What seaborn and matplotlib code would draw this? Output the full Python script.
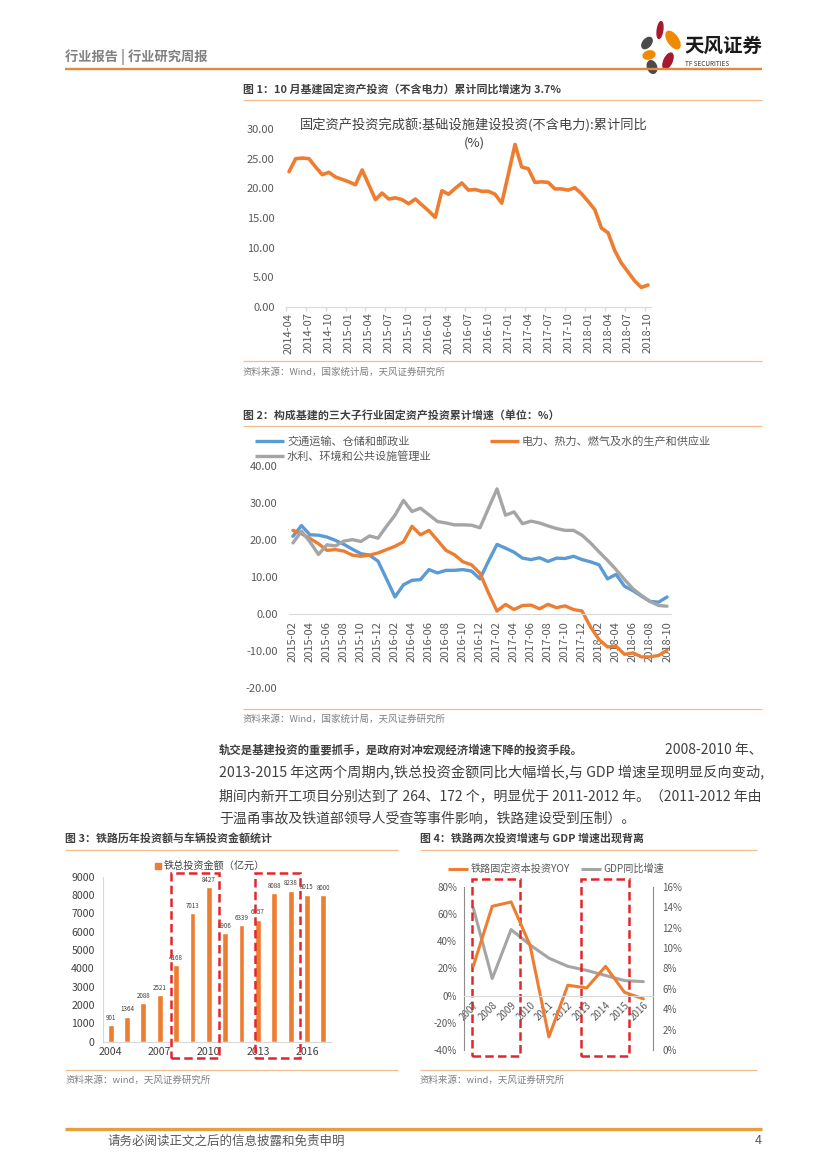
import numpy as np
import pandas as pd
import matplotlib
matplotlib.use("Agg")
import matplotlib.pyplot as plt
import seaborn as sns
from matplotlib.lines import Line2D
from matplotlib.patches import Ellipse, Rectangle

# ---------------- data ----------------
c1_months = [str(p) for p in pd.period_range("2014-04", "2018-10", freq="M")]
c1_infra = [22.8, 25.0, 25.1, 25.0, 23.6, 22.3, 22.7, 21.9, 21.5,
            21.1, 20.6, 23.1, 20.6, 18.1, 19.2, 18.2, 18.4, 18.1, 17.4, 18.2, 17.2,
            16.2, 15.1, 19.6, 19.0, 20.0, 20.9, 19.7, 19.8, 19.5, 19.5, 19.0, 17.5,
            22.4, 27.4, 23.6, 23.3, 21.0, 21.1, 21.0, 19.9, 19.9, 19.7, 20.1, 19.1,
            17.8, 16.4, 13.3, 12.5, 9.5, 7.4, 5.9, 4.4, 3.3, 3.7]

c2_months = [str(p) for p in pd.period_range("2015-02", "2018-10", freq="M")]
c2_transport = [21.0, 23.9, 21.4, 21.3, 20.8, 19.9, 18.8, 17.5, 16.3, 15.9, 14.3,
                9.5, 4.6, 7.9, 9.1, 9.3, 12.0, 11.1, 11.8, 11.8, 12.0, 11.6, 9.5,
                14.3, 18.8, 17.8, 16.7, 15.1, 14.7, 15.2, 14.2, 15.1, 15.0, 15.6, 14.7,
                14.1, 13.3, 9.5, 10.7, 7.5, 6.3, 4.8, 3.4, 3.2, 4.6]
c2_power = [22.6, 21.7, 20.4, 19.0, 17.2, 17.4, 17.0, 15.9, 15.6, 15.9, 16.5,
            17.4, 18.3, 19.5, 23.7, 21.4, 22.6, 19.9, 17.2, 16.0, 14.1, 13.3, 11.0,
            5.7, 0.8, 2.6, 1.2, 2.3, 2.4, 1.4, 2.6, 1.7, 2.2, 1.2, 0.8,
            -3.5, -6.9, -8.9, -8.7, -10.9, -10.5, -11.6, -11.6, -11.2, -9.8]
c2_water = [19.2, 22.4, 19.5, 16.1, 18.7, 18.4, 19.7, 20.1, 19.6, 21.1, 20.5,
            23.7, 26.7, 30.7, 27.7, 28.6, 26.8, 25.0, 24.6, 24.1, 24.1, 24.0, 23.3,
            28.6, 33.8, 26.7, 27.6, 24.4, 25.1, 24.6, 23.8, 23.1, 22.6, 22.6, 21.3,
            19.2, 16.8, 14.5, 12.0, 9.3, 6.8, 5.0, 3.4, 2.3, 2.1]
c2_names = ["交通运输、仓储和邮政业", "电力、热力、燃气及水的生产和供应业", "水利、环境和公共设施管理业"]

c3_years = ["2004", "2005", "2006", "2007", "2008", "2009", "2010",
            "2011", "2012", "2013", "2014", "2015", "2016", "2017"]
c3_invest = [901, 1364, 2088, 2521, 4168, 7013, 8427, 5906, 6339, 6657, 8088, 8238, 8015, 8000]
c3_tick_years = ["2004", "2007", "2010", "2013", "2016"]

c4_years = ["2007", "2008", "2009", "2010", "2011", "2012", "2013", "2014", "2015", "2016"]
c4_rail_yoy = [21.7, 65.6, 68.8, 37.0, -30.4, 7.6, 5.6, 21.5, 2.4, -2.4]
c4_gdp = [13.9, 7.0, 11.8, 10.3, 9.0, 8.2, 7.8, 7.3, 6.8, 6.7]

# ---------------- style ----------------
sns.set_theme(style="white")
plt.rcParams['font.family'] = ['Noto Sans CJK SC', 'DejaVu Sans']
plt.rcParams['axes.unicode_minus'] = False

ORANGE = '#ED7D31'
BLUE = '#5B9BD5'
GRAY = '#A5A5A5'
RED = '#E3262B'
LINE_OR = '#F3BE8E'
TXT = '#404040'
TICK = '#595959'
SRC = '#7F7F7F'

W, H = 827, 1169
fig = plt.figure(figsize=(W / 100, H / 100), dpi=100)
fig.patch.set_facecolor('white')
renderer = fig.canvas.get_renderer()


def fx(x):
    return x / W


def fy(y):
    return 1 - y / H


def box(x0, y0, x1, y1):
    a = fig.add_axes([fx(x0), fy(y1), (x1 - x0) / W, (y1 - y0) / H])
    a.set_facecolor('none')
    return a


def ftext(x, y, s, **kw):
    kw.setdefault('va', 'center')
    return fig.text(fx(x), fy(y), s, **kw)


def fit_text(x0, x1, y, s, base, **kw):
    t = ftext(x0, y, s, fontsize=base, **kw)
    w = t.get_window_extent(renderer).width
    t.set_fontsize(base * (x1 - x0) / w)
    return t


def hline(x0, x1, y, color, lw):
    fig.add_artist(Line2D([fx(x0), fx(x1)], [fy(y), fy(y)], color=color, lw=lw,
                          solid_capstyle='butt'))


def dashed_box(x0, y0, x1, y1):
    fig.add_artist(Rectangle((fx(x0), fy(y1)), (x1 - x0) / W, (y1 - y0) / H, fill=False,
                             edgecolor=RED, lw=1.8, linestyle=(0, (3.4, 1.7))))


def clean(ax):
    ax.set_xlabel('')
    ax.set_ylabel('')
    for s in ['top', 'right', 'left']:
        ax.spines[s].set_visible(False)
    ax.spines['bottom'].set_color('#D9D9D9')
    ax.spines['bottom'].set_linewidth(0.8)


# ---------------- header ----------------
ftext(65, 57, "行业报告 | 行业研究周报", fontsize=9.5, color='#808080', weight='bold')
hline(65, 762, 69, '#E8873A', 1.7)

logo = box(634, 18, 686, 76)
logo.set_xlim(634, 686)
logo.set_ylim(76, 18)
logo.axis('off')
petals = [((660, 30), 5.5, 17, 8, '#A8192E'),
          ((673, 40), 10, 20, -35, '#F08A00'),
          ((647, 43), 8, 13, 40, '#4A4A4A'),
          ((649, 55), 12, 8, -15, '#F08A00'),
          ((668, 61), 8, 17, 25, '#A8192E'),
          ((652, 67), 9, 13, -20, '#4A4A4A')]
for (c, w, h, ang, col) in petals:
    logo.add_patch(Ellipse(c, w, h, angle=ang, color=col))
ftext(684, 46, "天风证券", fontsize=14, weight='bold', color='#1A1A1A')
ftext(685, 64, "TF SECURITIES", fontsize=4.6, color='#333333')

# ---------------- chart 1 ----------------
ftext(243, 89, "图 1：10 月基建固定资产投资（不含电力）累计同比增速为 3.7%",
      fontsize=7.9, weight='bold', color=TXT)
hline(243, 762, 100, LINE_OR, 0.9)

n1 = len(c1_infra)
ax1 = box(285.7, 129, 651.3, 307)
sns.lineplot(x=np.arange(n1), y=c1_infra, ax=ax1, color=ORANGE, lw=2.6)
clean(ax1)
ax1.set_xlim(-0.5, n1 - 0.5)
ax1.set_ylim(0, 30)
yt = np.arange(0, 31, 5)
ax1.set_yticks(yt)
ax1.set_yticklabels([f"{v:.2f}" for v in yt])
ax1.set_xticks(np.arange(0, n1, 3))
ax1.set_xticklabels(c1_months[::3], rotation=90)
ax1.set_xticks(np.arange(-0.5, n1, 3), minor=True)
ax1.tick_params(axis='both', which='major', length=0, labelsize=8, labelcolor=TICK)
ax1.tick_params(axis='y', pad=8)
ax1.tick_params(axis='x', pad=4)
ax1.tick_params(axis='x', which='minor', length=3, color='#D9D9D9', bottom=True)
ftext(474, 125, "固定资产投资完成额:基础设施建设投资(不含电力):累计同比",
      fontsize=9.5, color=TXT, ha='center')
ftext(474, 143, "(%)", fontsize=9.5, color=TXT, ha='center')

hline(243, 762, 361, LINE_OR, 0.9)
ftext(243, 372, "资料来源：Wind，国家统计局，天风证券研究所", fontsize=6.8, color=SRC)

# ---------------- chart 2 ----------------
ftext(243, 415, "图 2：构成基建的三大子行业固定资产投资累计增速（单位：%）",
      fontsize=7.9, weight='bold', color=TXT)
hline(243, 762, 426, LINE_OR, 0.9)

n2 = len(c2_transport)
ax2 = box(288.7, 466, 671.3, 688)
for vals, col in [(c2_transport, BLUE), (c2_power, ORANGE), (c2_water, GRAY)]:
    sns.lineplot(x=np.arange(n2), y=vals, ax=ax2, color=col, lw=2.4)
clean(ax2)
ax2.spines['bottom'].set_position(('data', 0))
ax2.set_xlim(-0.5, n2 - 0.5)
ax2.set_ylim(-20, 40)
yt2 = np.arange(-20, 41, 10)
ax2.set_yticks(yt2)
ax2.set_yticklabels([f"{v:.2f}" for v in yt2])
ax2.set_xticks(np.arange(0, n2, 2))
ax2.set_xticklabels(c2_months[::2], rotation=90)
ax2.tick_params(axis='both', length=0, labelsize=8, labelcolor=TICK)
ax2.tick_params(axis='y', pad=8)
ax2.tick_params(axis='x', pad=5)

# legend
hline(255, 284, 441, BLUE, 2.4)
ftext(287, 441, c2_names[0], fontsize=8, color=TICK)
hline(490, 519, 441, ORANGE, 2.4)
ftext(522, 441, c2_names[1], fontsize=8, color=TICK)
hline(255, 284, 456, GRAY, 2.4)
ftext(287, 456, c2_names[2], fontsize=8, color=TICK)

hline(243, 762, 709, LINE_OR, 0.9)
ftext(243, 719, "资料来源：Wind，国家统计局，天风证券研究所", fontsize=6.8, color=SRC)

# ---------------- paragraph ----------------
fit_text(219, 582, 750, "轨交是基建投资的重要抓手，是政府对冲宏观经济增速下降的投资手段。",
         8.5, weight='bold', color=TXT)
ftext(763, 750, "2008-2010 年、", fontsize=10, color=TXT, ha='right')
fit_text(219, 763, 773, "2013-2015 年这两个周期内,铁总投资金额同比大幅增长,与 GDP 增速呈现明显反向变动,",
         10, color=TXT)
fit_text(219, 763, 796, "期间内新开工项目分别达到了 264、172 个，明显优于 2011-2012 年。（2011-2012 年由",
         10, color=TXT)
ftext(219, 818, "于温甬事故及铁道部领导人受查等事件影响，铁路建设受到压制）。",
      fontsize=10, color=TXT)

# ---------------- chart 3 ----------------
ftext(65, 838, "图 3：铁路历年投资额与车辆投资金额统计", fontsize=7.9, weight='bold', color=TXT)
hline(65, 398, 850, LINE_OR, 0.9)

ax3 = box(102.5, 876.7, 331.5, 1041.7)
df3 = pd.DataFrame({'year': c3_years, 'invest': c3_invest})
sns.barplot(data=df3, x='year', y='invest', ax=ax3, color=ORANGE, width=0.36,
            saturation=1)
clean(ax3)
ax3.spines['left'].set_visible(True)
ax3.spines['left'].set_color('#D9D9D9')
ax3.spines['left'].set_linewidth(0.8)
ax3.set_xlim(-0.5, len(c3_years) - 0.5)
ax3.set_ylim(0, 9000)
ax3.set_yticks(np.arange(0, 9001, 1000))
ax3.set_xticks([c3_years.index(y) for y in c3_tick_years])
ax3.set_xticklabels(c3_tick_years)
ax3.tick_params(axis='both', length=0, labelsize=7.6, labelcolor=TXT)
ax3.tick_params(axis='y', pad=5.5)
ax3.tick_params(axis='x', pad=4)
for i, v in enumerate(c3_invest):
    ax3.text(i, v + 180, str(v), ha='center', va='bottom', fontsize=4.5, color=TXT)

fig.add_artist(Rectangle((fx(155), fy(869)), 6 / W, 6 / H, color=ORANGE))
ftext(164, 866, "铁总投资金额（亿元）", fontsize=7.3, color=TXT)

dashed_box(171, 873, 219, 1058)
dashed_box(255, 873, 300, 1058)

hline(65, 398, 1070, LINE_OR, 0.9)
ftext(65, 1080, "资料来源：wind，天风证券研究所", fontsize=6.8, color=SRC)

# ---------------- chart 4 ----------------
ftext(420, 838, "图 4：铁路两次投资增速与 GDP 增速出现背离", fontsize=7.9, weight='bold', color=TXT)
hline(420, 757, 850, LINE_OR, 0.9)

n4 = len(c4_years)
ax4 = box(463.9, 886.7, 652.8, 1050)
ax4r = ax4.twinx()
sns.lineplot(x=np.arange(n4), y=c4_gdp, ax=ax4r, color=GRAY, lw=2.2)
sns.lineplot(x=np.arange(n4), y=c4_rail_yoy, ax=ax4, color=ORANGE, lw=2.2)
ax4.set_zorder(ax4r.get_zorder() + 1)
ax4.patch.set_visible(False)
for a in (ax4, ax4r):
    a.set_xlabel('')
    a.set_ylabel('')
    a.spines['top'].set_visible(False)
    a.grid(False)
ax4.spines['right'].set_visible(False)
ax4.spines['left'].set_color('#8C8C8C')
ax4.spines['left'].set_linewidth(0.8)
ax4r.spines['left'].set_visible(False)
ax4r.spines['bottom'].set_visible(False)
ax4r.spines['right'].set_color('#8C8C8C')
ax4r.spines['right'].set_linewidth(0.8)
ax4.spines['bottom'].set_position(('data', 0))
ax4.spines['bottom'].set_color('#D9D9D9')
ax4.spines['bottom'].set_linewidth(0.8)
ax4.set_xlim(-0.5, n4 - 0.5)
ax4.set_ylim(-40, 80)
ax4r.set_ylim(0, 16)
yl = np.arange(-40, 81, 20)
ax4.set_yticks(yl)
ax4.set_yticklabels([f"{v}%" for v in yl])
yr = np.arange(0, 17, 2)
ax4r.set_yticks(yr)
ax4r.set_yticklabels([f"{v}%" for v in yr])
ax4.set_xticks(np.arange(n4))
ax4.set_xticklabels(c4_years, rotation=45, ha='right', rotation_mode='anchor')
ax4.tick_params(axis='both', length=0, labelsize=7, labelcolor=TICK)
ax4.tick_params(axis='y', pad=5)
ax4.tick_params(axis='x', pad=3)
ax4r.tick_params(axis='y', length=0, labelsize=7, labelcolor=TICK, pad=7)

hline(448, 468, 869, ORANGE, 2.2)
ftext(471, 869, "铁路固定资本投资YOY", fontsize=7.3, color=TICK)
hline(581, 601, 869, GRAY, 2.2)
ftext(603, 869, "GDP同比增速", fontsize=7.3, color=TICK)

dashed_box(472, 879, 520, 1056)
dashed_box(581, 879, 629, 1056)

hline(420, 757, 1070, LINE_OR, 0.9)
ftext(420, 1080, "资料来源：wind，天风证券研究所", fontsize=6.8, color=SRC)

# ---------------- footer ----------------
hline(65, 762, 1129, '#E5A03C', 2.4)
ftext(107, 1141, "请务必阅读正文之后的信息披露和免责申明", fontsize=9, color='#595959')
ftext(762, 1141, "4", fontsize=9, color='#595959', ha='right')

fig.savefig("out.png", dpi=100, facecolor='white')
